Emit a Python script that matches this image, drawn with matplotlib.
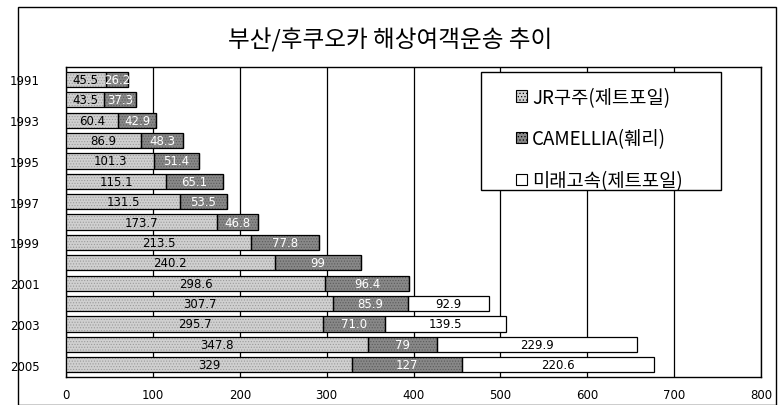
import numpy as np
import matplotlib
matplotlib.use('Agg')
import matplotlib.pyplot as plt
from matplotlib.patches import Rectangle

plt.rcParams['font.family'] = ['Noto Sans CJK KR', 'DejaVu Sans']
plt.rcParams['hatch.linewidth'] = 0.5

# data
years = [str(y) for y in range(1991, 2006)]
jr_kyushu = [45.5, 43.5, 60.4, 86.9, 101.3, 115.1, 131.5, 173.7, 213.5, 240.2, 298.6, 307.7, 295.7, 347.8, 329]
camellia = [26.2, 37.3, 42.9, 48.3, 51.4, 65.1, 53.5, 46.8, 77.8, 99, 96.4, 85.9, 71.0, 79, 127]
mirae = [0, 0, 0, 0, 0, 0, 0, 0, 0, 0, 0, 92.9, 139.5, 229.9, 220.6]
cam_text = ['26.2', '37.3', '42.9', '48.3', '51.4', '65.1', '53.5', '46.8', '77.8', '99', '96.4', '85.9', '71.0', '79', '127']
series_names = ['JR구주(제트포일)', 'CAMELLIA(훼리)', '미래고속(제트포일)']

fig = plt.figure(figsize=(7.81, 4.06), dpi=100)
ax = fig.add_axes([0.0845, 0.069, 0.89, 0.763])

y = np.arange(len(years))
h = 0.75
jr = np.array(jr_kyushu)
cm = np.array(camellia)
mr = np.array(mirae)

# textured fill first, then black outlines on top
ax.barh(y, jr, height=h, color='#d0d0d0', edgecolor='#9a9a9a', linewidth=0,
        hatch='......', zorder=3)
ax.barh(y, cm, left=jr, height=h, color='#888888', edgecolor='#5a5a5a', linewidth=0,
        hatch='......', zorder=3)
ax.barh(y, jr, height=h, fill=False, edgecolor='black', linewidth=0.9, zorder=3.5)
ax.barh(y, cm, left=jr, height=h, fill=False, edgecolor='black', linewidth=0.9, zorder=3.5)
ax.barh(y, mr, left=jr + cm, height=h, color='white', edgecolor='black', linewidth=0.9,
        zorder=3)

for i in range(len(years)):
    ax.text(jr[i] / 2, y[i], str(jr_kyushu[i]), ha='center', va='center', fontsize=8.5,
            family='DejaVu Sans', color='black', zorder=4)
    ax.text(jr[i] + cm[i] / 2, y[i], cam_text[i], ha='center', va='center', fontsize=8.5,
            family='DejaVu Sans', color='white', zorder=4)
    if mr[i] > 0:
        ax.text(jr[i] + cm[i] + mr[i] / 2, y[i], str(mirae[i]), ha='center', va='center',
                fontsize=8.5, family='DejaVu Sans', color='black', zorder=4)

ax.set_xlim(0, 800)
ax.set_ylim(len(years) - 0.5 + 0.1, -0.5 - 0.1)
ax.set_xticks(range(0, 801, 100))
ax.set_yticks(y[::2])
ax.set_yticklabels(years[::2])
ax.tick_params(axis='both', length=0, labelsize=8.5)
ax.tick_params(axis='y', pad=19)
ax.tick_params(axis='x', pad=8)
for lab in ax.get_xticklabels() + ax.get_yticklabels():
    lab.set_family('DejaVu Sans')

ax.grid(axis='x', color='black', linewidth=0.9, zorder=0)
ax.set_axisbelow(True)
for s in ax.spines.values():
    s.set_linewidth(1.0)

# legend frame drawn separately so the entries can sit inset like the original
ax.add_patch(Rectangle((0.597, 0.603), 0.345, 0.381, transform=ax.transAxes,
                       facecolor='white', edgecolor='black', linewidth=1.0, zorder=5))
h1 = Rectangle((0, 0), 1, 1, facecolor='#d0d0d0', edgecolor='black', hatch='.....', linewidth=0.8)
h2 = Rectangle((0, 0), 1, 1, facecolor='#888888', edgecolor='black', hatch='.....', linewidth=0.8)
h3 = Rectangle((0, 0), 1, 1, facecolor='white', edgecolor='black', linewidth=0.8)
leg = ax.legend([h1, h2, h3], series_names, loc='upper left', bbox_to_anchor=(0.648, 0.937),
                fontsize=13.5, frameon=False, labelspacing=1.1, handlelength=0.55,
                handleheight=0.55, handletextpad=0.3, borderpad=0, borderaxespad=0)
leg.set_zorder(6)

fig.text(0.5, 0.9, '부산/후쿠오카 해상여객운송 추이', ha='center', va='center', fontsize=17)

# outer chart border
fig.patches.append(Rectangle((0.023, 0.0), 0.97, 0.98, transform=fig.transFigure,
                             fill=False, edgecolor='black', linewidth=1.0))

fig.savefig('out.png', dpi=100)
